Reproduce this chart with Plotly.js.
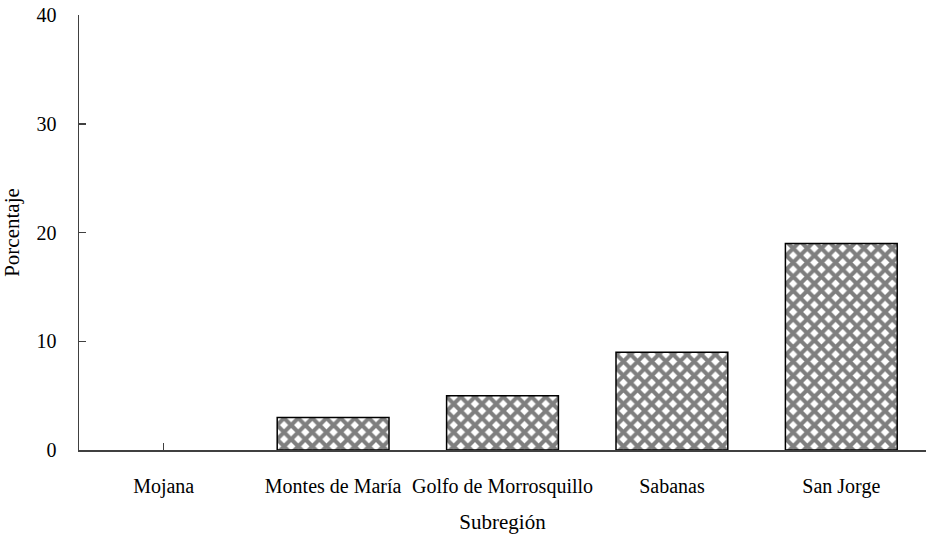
<!DOCTYPE html>
<html><head><meta charset="utf-8">
<script src="https://cdn.plot.ly/plotly-3.0.1.min.js"></script>
<style>html,body{margin:0;padding:0;background:#fff}</style>
</head><body>
<div id="chart" style="width:926px;height:541px"></div>
<script>
const categories = ["Mojana", "Montes de María", "Golfo de Morrosquillo", "Sabanas", "San Jorge"];
const percentages = [0, 3, 5, 9, 19];
const yTicks = [0, 10, 20, 30, 40];

const fontFam = 'Liberation Serif, Times New Roman, DejaVu Serif, serif';
const data = [{
  type: 'bar',
  x: categories,
  y: percentages,
  marker: {
    color: '#ffffff',
    line: {color: '#000000', width: percentages.map(v => v > 0 ? 1.5 : 0)},
    pattern: {shape: 'x', fgcolor: '#000000', bgcolor: '#ffffff', size: 10, solidity: 0.65, fillmode: 'overlay'}
  },
  hoverinfo: 'none'
}];
const layout = {
  width: 926, height: 541,
  margin: {l: 79, r: 0, t: 15, b: 91},
  paper_bgcolor: '#fff', plot_bgcolor: '#fff',
  bargap: 0.34,
  showlegend: false,
  font: {family: fontFam, color: '#000', size: 20},
  xaxis: {
    type: 'category',
    showline: true, linecolor: '#404040', linewidth: 1.5,
    ticks: 'inside', ticklen: 7, tickcolor: '#404040', tickwidth: 1.5,
    layer: 'below traces',
    showgrid: false, zeroline: false,
    tickfont: {family: fontFam, size: 20, color: '#000'},
    ticklabelstandoff: 17,
    title: {text: 'Subregión', font: {family: fontFam, size: 21, color: '#000'}, standoff: 18},
    range: [-0.5, 4.5]
  },
  yaxis: {
    range: [0, 40], tickvals: yTicks,
    showline: true, linecolor: '#404040', linewidth: 1.5,
    ticks: 'inside', ticklen: 7, tickcolor: '#404040', tickwidth: 1.5,
    layer: 'below traces',
    showgrid: false, zeroline: false,
    tickfont: {family: fontFam, size: 20, color: '#000'},
    ticklabelstandoff: 17,
    title: {text: 'Porcentaje', font: {family: fontFam, size: 21, color: '#000'}, standoff: 12}
  }
};
Plotly.newPlot('chart', data, layout, {displayModeBar: false, staticPlot: true});
</script>
</body></html>
